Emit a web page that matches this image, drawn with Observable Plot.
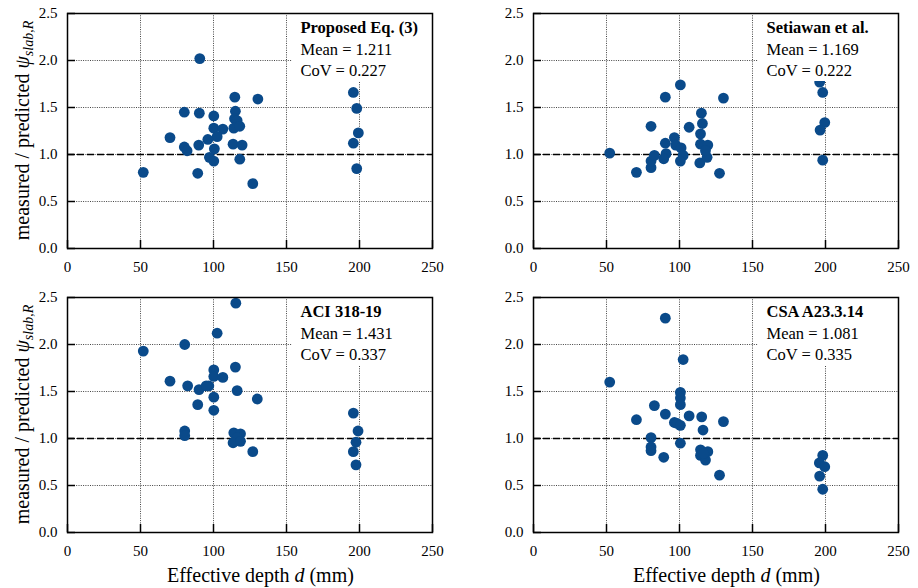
<!DOCTYPE html>
<html>
<head>
<meta charset="utf-8">
<script src="https://cdn.jsdelivr.net/npm/d3@7"></script>
<script src="https://cdn.jsdelivr.net/npm/@observablehq/plot@0.6"></script>
<style>
  html, body { margin: 0; padding: 0; background: #fff; }
  #wrap { position: relative; width: 918px; height: 588px; background: #fff; overflow: hidden; }
  #wrap svg { position: absolute; }
</style>
</head>
<body>
<div id="wrap"></div>
<script>
// ---- Data ----
const panelNames = ["Proposed Eq. (3)", "Setiawan et al.", "ACI 318-19", "CSA A23.3.14"];
const panelMeans = ["1.211", "1.169", "1.431", "1.081"];
const panelCovs  = ["0.227", "0.222", "0.337", "0.335"];

const xTicks = [0, 50, 100, 150, 200, 250];
const yTicks = [0, 0.5, 1.0, 1.5, 2.0, 2.5];
const xGrid = [50, 100, 150, 200];
const yGrid = [0.5, 1.0, 1.5, 2.0];
const refLine = [1.0];

// Proposed Eq. (3)
const depthP = [90.6, 114.6, 130.4, 195.8, 198.1, 80, 90.3, 100.2, 115, 114.4, 116.2, 100.2, 106.4, 113.9, 118, 102.5, 70.2, 96.1, 199.2, 80, 81.9, 89.9, 100.6, 113.4, 119.6, 195.8, 97.2, 100.2, 118, 51.9, 89.2, 126.9, 198.1];
const ratioP = [2.02, 1.61, 1.59, 1.66, 1.49, 1.45, 1.44, 1.41, 1.46, 1.38, 1.36, 1.28, 1.27, 1.28, 1.30, 1.19, 1.18, 1.16, 1.23, 1.08, 1.04, 1.10, 1.06, 1.11, 1.10, 1.12, 0.97, 0.93, 0.95, 0.81, 0.80, 0.69, 0.85];

// Setiawan et al.
const depthS = [52.2, 70.5, 80.5, 80.5, 80.5, 82.8, 90.3, 90.3, 90.8, 89.2, 96.5, 97.4, 100.6, 101.1, 102.5, 100.6, 106.6, 115, 115.7, 114.4, 114.4, 113.9, 119.4, 118.9, 117.8, 127.4, 130.1, 196, 198.1, 199.5, 196.3, 198.1];
const ratioS = [1.015, 0.81, 1.30, 0.86, 0.93, 0.99, 1.61, 1.12, 1.01, 0.955, 1.18, 1.10, 1.74, 1.07, 0.99, 0.93, 1.29, 1.44, 1.33, 1.22, 1.11, 0.91, 1.10, 0.97, 1.04, 0.80, 1.60, 1.77, 1.66, 1.34, 1.26, 0.94];

// ACI 318-19
const depthA = [115.3, 102.5, 80.3, 51.9, 115, 100.2, 100.2, 106.4, 70.2, 82.3, 90.1, 96.8, 95, 116.2, 100.2, 130, 89.2, 100.2, 195.8, 80.3, 80.3, 199, 113.9, 118.5, 116.2, 113.4, 118.5, 197.6, 126.9, 195.8, 197.6];
const ratioA = [2.44, 2.12, 2.00, 1.93, 1.76, 1.73, 1.66, 1.65, 1.61, 1.56, 1.52, 1.56, 1.56, 1.51, 1.44, 1.42, 1.36, 1.30, 1.27, 1.08, 1.03, 1.08, 1.06, 1.05, 1.01, 0.955, 0.97, 0.96, 0.86, 0.86, 0.72];

// CSA A23.3.14
const depthC = [90.3, 102.5, 52.2, 100.6, 100.6, 100.6, 82.8, 90.3, 106.6, 115.2, 70.5, 130.1, 96.5, 98.4, 100.6, 116.1, 80.5, 80.5, 80.5, 100.6, 89.2, 114.4, 119.4, 114.4, 117.8, 116.6, 127.4, 198.1, 195.8, 199.5, 196, 198.1];
const ratioC = [2.28, 1.84, 1.60, 1.49, 1.43, 1.36, 1.35, 1.26, 1.24, 1.23, 1.20, 1.18, 1.17, 1.16, 1.14, 1.09, 1.01, 0.91, 0.87, 0.95, 0.80, 0.88, 0.86, 0.82, 0.77, 0.84, 0.61, 0.82, 0.74, 0.70, 0.60, 0.46];

const series = [[depthP, ratioP], [depthS, ratioS], [depthA, ratioA], [depthC, ratioC]];

// ---- Layout ----
const FONT = "'Liberation Serif', 'Times New Roman', serif";
const DOT = "#0a4a8a";
const layouts = [
  {left: 0,   top: 0,   width: 459, height: 294, ml: 67, mr: 27, mt: 13, mb: 46, yLabel: true,  xLabel: false},
  {left: 459, top: 0,   width: 459, height: 294, ml: 74, mr: 20, mt: 13, mb: 46, yLabel: false, xLabel: false},
  {left: 0,   top: 284, width: 459, height: 304, ml: 67, mr: 27, mt: 13, mb: 56, yLabel: true,  xLabel: true},
  {left: 459, top: 284, width: 459, height: 304, ml: 74, mr: 20, mt: 13, mb: 56, yLabel: false, xLabel: true}
];

const wrap = document.getElementById("wrap");

layouts.forEach((L, i) => {
  const [xs, ys] = series[i];
  const pts = xs.map((x, k) => ({x, y: ys[k]}));
  const fw = L.width - L.ml - L.mr;
  const fh = L.height - L.mt - L.mb;
  const txt = {frameAnchor: "top-right", textAnchor: "start", lineAnchor: "middle", dx: -132, fontSize: 16.5, fontFamily: FONT, fill: "#000"};
  const svg = Plot.plot({
    width: L.width, height: L.height,
    marginLeft: L.ml, marginRight: L.mr, marginTop: L.mt, marginBottom: L.mb,
    style: {fontFamily: FONT, fontSize: "15px", background: "transparent", color: "#000", overflow: "visible"},
    x: {domain: [0, 250], label: null},
    y: {domain: [0, 2.5], label: null},
    marks: [
      Plot.gridX(xGrid, {stroke: "#444", strokeOpacity: 1, strokeWidth: 1, strokeDasharray: "1,1.3"}),
      Plot.gridY(yGrid, {stroke: "#444", strokeOpacity: 1, strokeWidth: 1, strokeDasharray: "1,1.3"}),
      Plot.ruleY(refLine, {stroke: "#000", strokeWidth: 1.6, strokeDasharray: "7,3"}),
      Plot.tickY(yTicks, {y: d => d, insetRight: fw - 8, stroke: "#000", strokeWidth: 1.5}),
      Plot.tickX(xTicks, {x: d => d, insetTop: fh - 8, stroke: "#000", strokeWidth: 1.5}),
      Plot.axisX(xTicks, {tickSize: 0, tickPadding: 13, tickFormat: d => String(d), fontSize: 15, fontFamily: FONT, fill: "#000"}),
      Plot.axisY(yTicks, {tickSize: 0, tickPadding: 10, tickFormat: d => d.toFixed(1), fontSize: 15, fontFamily: FONT, fill: "#000"}),
      Plot.dot(pts, {x: "x", y: "y", r: 5.4, fill: DOT, stroke: "none"}),
      Plot.text([panelNames[i]], {...txt, dy: 14, fontWeight: "bold"}),
      Plot.text(["Mean = " + panelMeans[i]], {...txt, dy: 36}),
      Plot.text(["CoV = " + panelCovs[i]], {...txt, dy: 57}),
      Plot.frame({stroke: "#000", strokeWidth: 1.5})
    ]
  });
  svg.style.left = L.left + "px";
  svg.style.top = L.top + "px";
  const s = d3.select(svg);
  // white annotation box behind the stats text (covers grid and dots like the reference)
  s.insert("rect", 'g[aria-label="text"]')
    .attr("x", L.ml + fw - 140)
    .attr("y", L.mt)
    .attr("width", 140)
    .attr("height", 68)
    .attr("fill", "#fff");
  if (L.yLabel) {
    const t = s.append("text")
      .attr("transform", `translate(29,${L.mt + fh / 2}) rotate(-90)`)
      .attr("text-anchor", "middle")
      .attr("font-family", FONT)
      .attr("font-size", 20)
      .attr("fill", "#000");
    t.append("tspan").text("measured / predicted ");
    t.append("tspan").attr("font-style", "italic").text("ψ");
    t.append("tspan").attr("font-style", "italic").attr("font-size", 14).attr("dy", "0.3em").text("slab,R");
  }
  if (L.xLabel) {
    const t = s.append("text")
      .attr("x", L.ml + fw / 2 + 11)
      .attr("y", L.mt + fh + 50)
      .attr("text-anchor", "middle")
      .attr("font-family", FONT)
      .attr("font-size", 20)
      .attr("fill", "#000");
    t.append("tspan").text("Effective depth ");
    t.append("tspan").attr("font-style", "italic").text("d");
    t.append("tspan").text(" (mm)");
  }
  wrap.appendChild(svg);
});
</script>
</body>
</html>
